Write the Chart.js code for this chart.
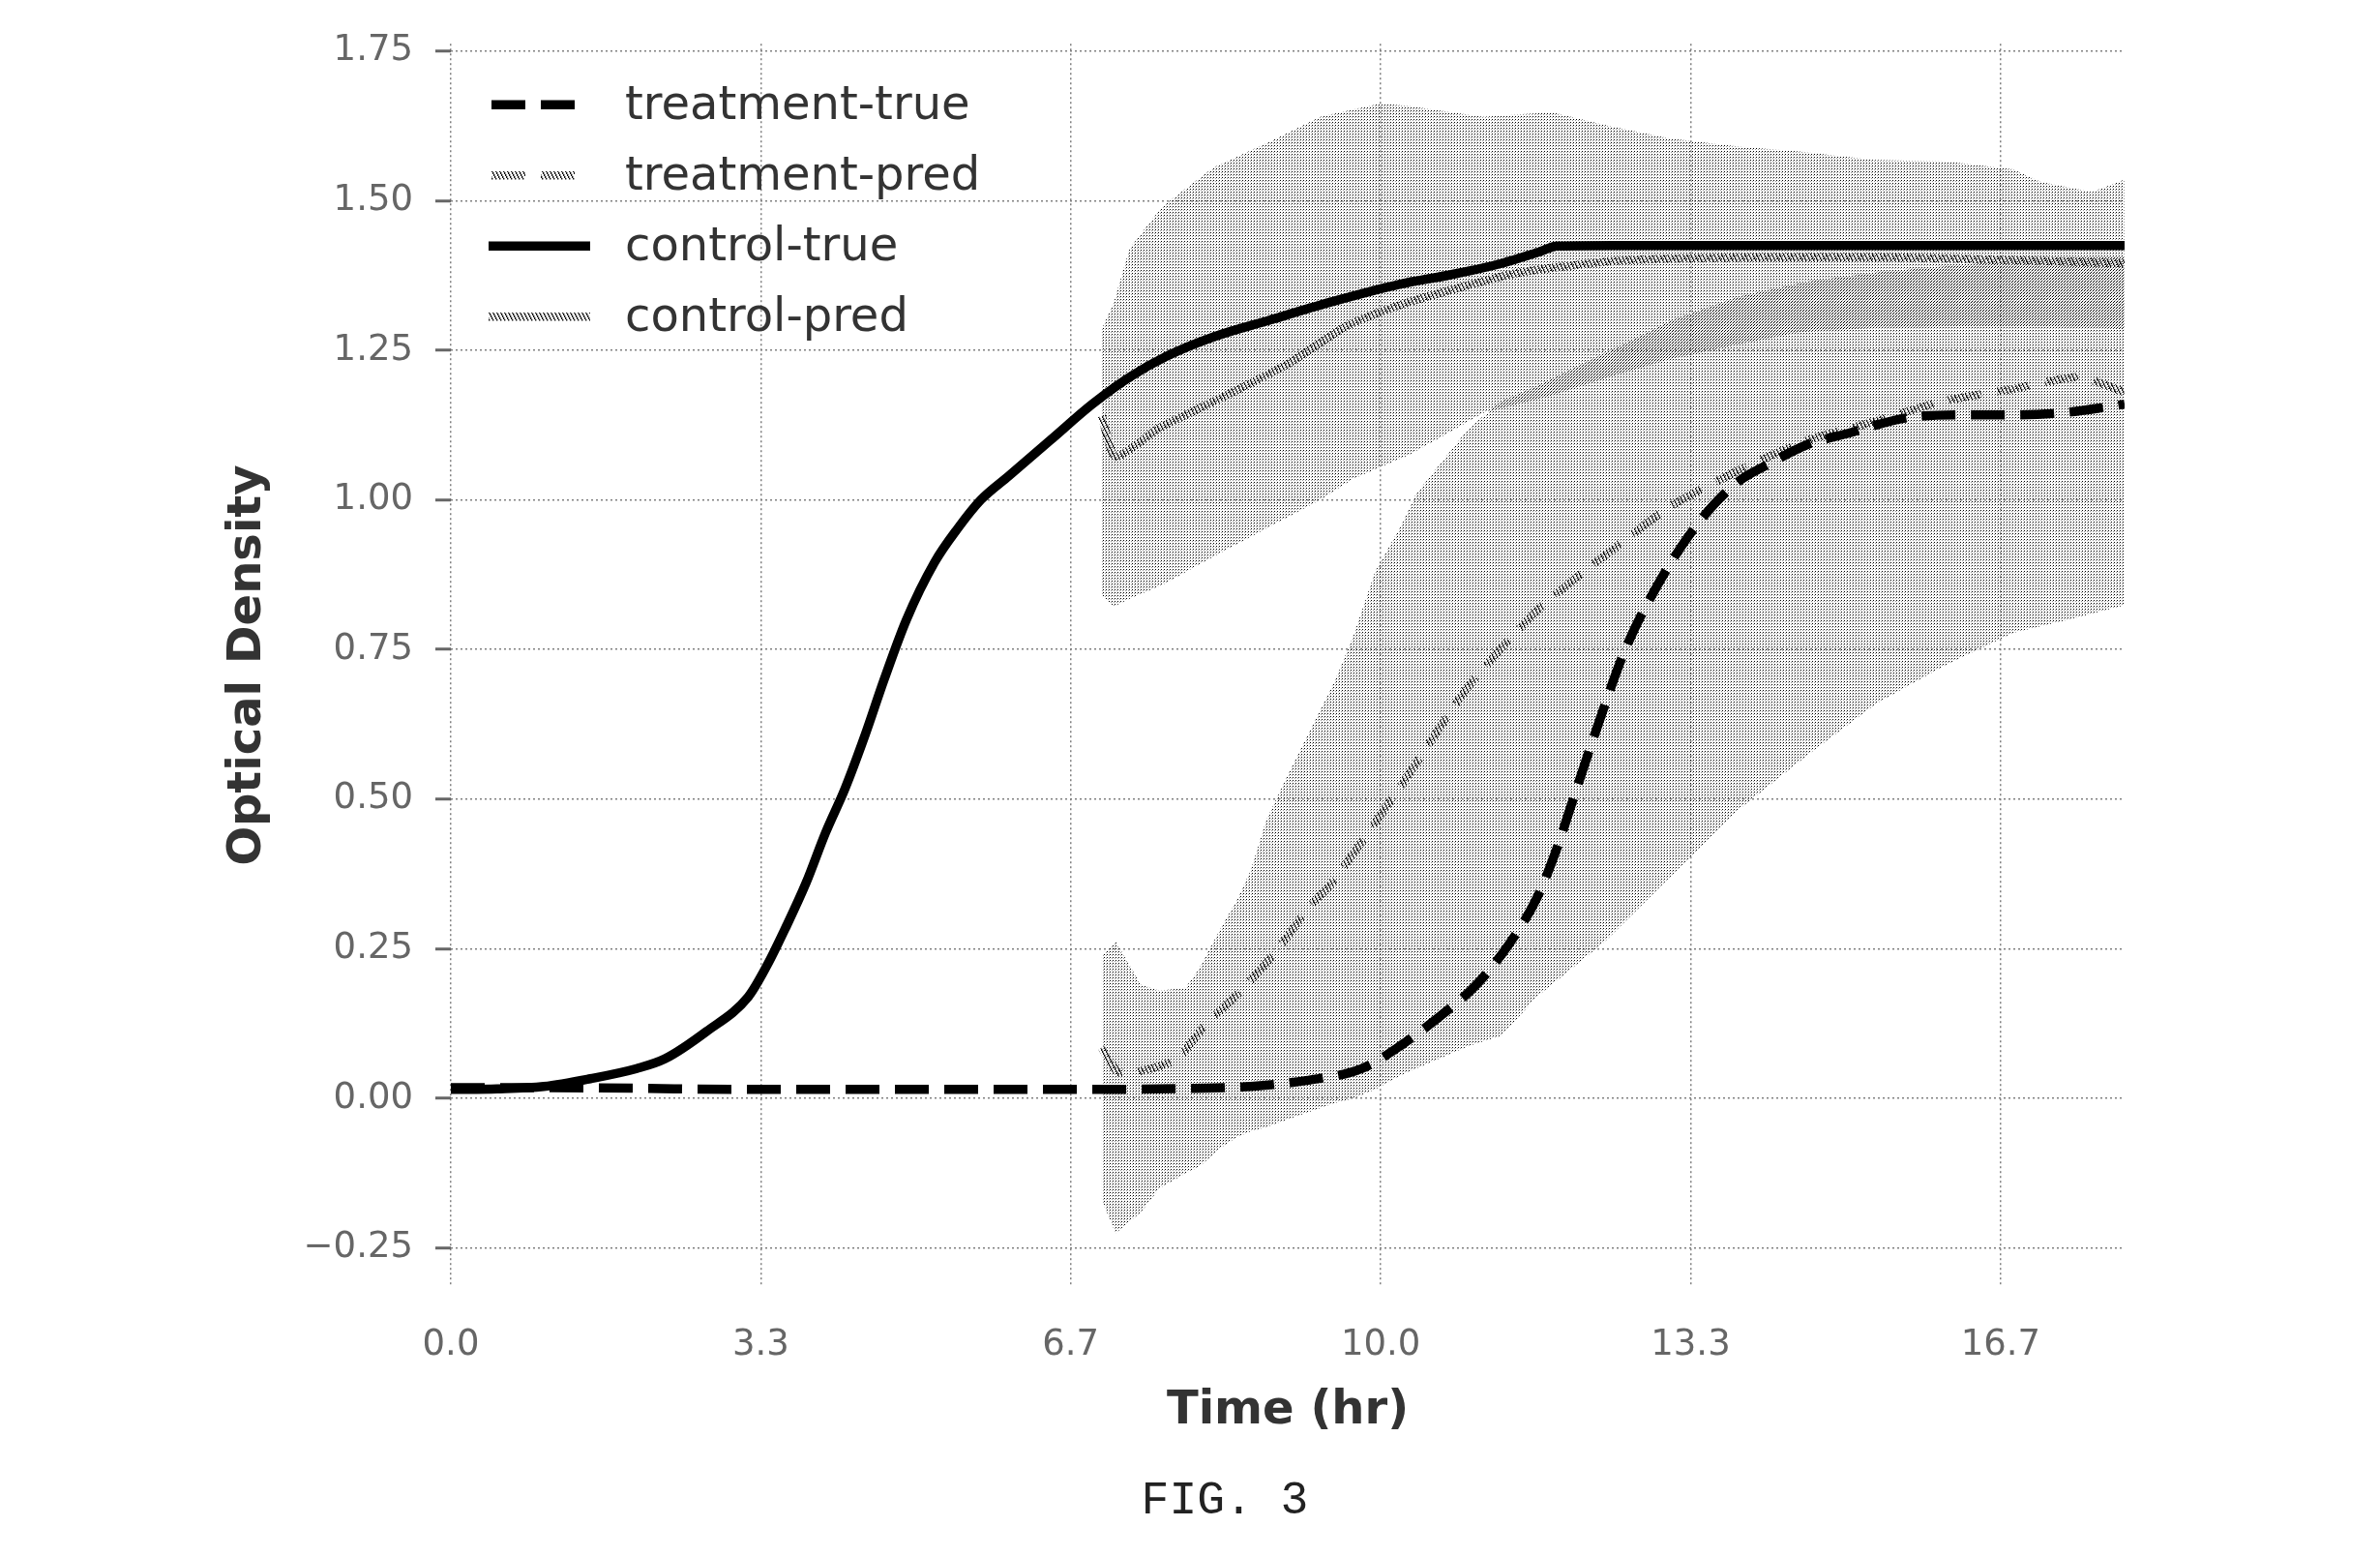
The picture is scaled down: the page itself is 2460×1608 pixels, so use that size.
<!DOCTYPE html>
<html>
<head>
<meta charset="utf-8">
<script src="https://cdn.jsdelivr.net/npm/chart.js@4.4.0/dist/chart.umd.min.js"></script>
<style>
  html, body { margin: 0; padding: 0; background: #ffffff; }
  #wrap { position: relative; width: 2460px; height: 1608px; }
  #fig { position: absolute; left: 1066px; width: 400px; top: 1519px; height: 64px; line-height: 64px;
         text-align: center; font-family: "Liberation Mono", "DejaVu Sans Mono", monospace; font-size: 48px; color: #222; }
</style>
</head>
<body>
<div id="wrap">
  <canvas id="c" width="2460" height="1608"></canvas>
  <div id="fig">FIG. 3</div>
</div>
<script>
// ---------------- data ----------------
const seriesLabels = ['treatment-true', 'treatment-pred', 'control-true', 'control-pred'];

const ctrlTrueT  = [0, 0.5, 1.0, 1.5, 2.0, 2.3, 2.75, 3.2, 3.4, 3.6, 3.82, 4.03, 4.24, 4.45, 4.66, 4.9, 5.2, 5.45, 5.7, 6.0, 6.45, 6.9, 7.3, 7.7, 8.2, 8.8, 9.5, 10.2, 10.75, 11.3, 11.7, 11.9, 12.5, 14, 16, 18];
const ctrlTrueOD = [0.015, 0.016, 0.02, 0.033, 0.05, 0.066, 0.112, 0.17, 0.222, 0.285, 0.36, 0.444, 0.518, 0.605, 0.70, 0.80, 0.895, 0.952, 1.0, 1.04, 1.10, 1.16, 1.205, 1.24, 1.272, 1.30, 1.332, 1.36, 1.376, 1.395, 1.414, 1.424, 1.425, 1.425, 1.425, 1.425];

const trtTrueT  = [0, 1, 2, 3, 4, 5, 6, 7, 8, 8.6, 9.2, 9.8, 10.23, 10.66, 11.03, 11.39, 11.68, 11.9, 12.07, 12.35, 12.63, 12.95, 13.36, 13.8, 14.2, 14.6, 15.0, 15.7, 16.3, 16.8, 17.3, 17.8, 18];
const trtTrueOD = [0.018, 0.018, 0.017, 0.015, 0.015, 0.015, 0.015, 0.015, 0.017, 0.02, 0.03, 0.05, 0.09, 0.14, 0.19, 0.26, 0.335, 0.42, 0.5, 0.63, 0.75, 0.85, 0.95, 1.025, 1.062, 1.093, 1.11, 1.138, 1.142, 1.142, 1.145, 1.155, 1.16];

const ctrlPredT  = [7.0, 7.15, 7.62, 8.32, 9.0, 9.63, 10.2, 10.74, 11.5, 12.6, 14, 15.5, 17, 18];
const ctrlPredOD = [1.14, 1.072, 1.12, 1.173, 1.227, 1.29, 1.325, 1.35, 1.38, 1.40, 1.405, 1.405, 1.40, 1.395];

const trtPredT  = [7.0, 7.17, 7.4, 7.8, 8.1, 8.5, 8.87, 9.21, 9.5, 10.23, 10.95, 11.68, 12.41, 13.13, 13.86, 14.6, 15.3, 16.05, 16.8, 17.5, 18];
const trtPredOD = [0.085, 0.045, 0.045, 0.065, 0.12, 0.18, 0.245, 0.315, 0.365, 0.525, 0.69, 0.815, 0.907, 0.99, 1.05, 1.10, 1.13, 1.165, 1.185, 1.205, 1.18];

const ctrlBandT  = [7.0, 7.13, 7.3, 7.65, 8.2, 8.8, 9.35, 9.7, 10.0, 10.3, 10.65, 11.1, 11.6, 11.85, 12.45, 13.1, 13.85, 14.5, 15.3, 16.1, 16.8, 17.1, 17.65, 18.0];
const ctrlBandHi = [1.285, 1.33, 1.42, 1.49, 1.555, 1.598, 1.64, 1.652, 1.662, 1.658, 1.65, 1.64, 1.645, 1.647, 1.625, 1.604, 1.59, 1.582, 1.568, 1.565, 1.552, 1.531, 1.514, 1.535];
const ctrlBandLo = [0.84, 0.822, 0.835, 0.858, 0.905, 0.955, 1.0, 1.035, 1.055, 1.075, 1.105, 1.145, 1.165, 1.175, 1.205, 1.235, 1.26, 1.28, 1.287, 1.29, 1.29, 1.29, 1.288, 1.285];

const trtBandT  = [7.0, 7.15, 7.42, 7.62, 7.9, 8.04, 8.3, 8.45, 8.6, 8.77, 9.0, 9.5, 9.7, 9.94, 10.23, 10.38, 10.95, 11.3, 11.68, 12.41, 13.13, 13.86, 14.6, 15.33, 16.06, 16.8, 17.4, 18.0];
const trtBandHi = [0.24, 0.262, 0.19, 0.18, 0.185, 0.215, 0.29, 0.33, 0.38, 0.465, 0.54, 0.695, 0.77, 0.88, 0.96, 1.01, 1.12, 1.165, 1.19, 1.245, 1.30, 1.34, 1.365, 1.38, 1.39, 1.40, 1.405, 1.405];
const trtBandLo = [-0.17, -0.225, -0.19, -0.15, -0.125, -0.115, -0.08, -0.065, -0.055, -0.048, -0.035, -0.008, 0.0, 0.015, 0.04, 0.05, 0.088, 0.105, 0.17, 0.262, 0.373, 0.484, 0.575, 0.66, 0.723, 0.778, 0.80, 0.824];

const xTickValues = [0, 10 / 3, 20 / 3, 10, 40 / 3, 50 / 3];
const xTickLabels = ['0.0', '3.3', '6.7', '10.0', '13.3', '16.7'];
const yTickValues = [-0.25, 0, 0.25, 0.5, 0.75, 1.0, 1.25, 1.5, 1.75];
const yTickLabels = ['\u22120.25', '0.00', '0.25', '0.50', '0.75', '1.00', '1.25', '1.50', '1.75'];

// ---------------- helpers ----------------
const pts = (t, v) => t.map((x, i) => ({ x: x, y: v[i] }));

function dotPattern(ox, oy) {
  const c = document.createElement('canvas');
  c.width = 3; c.height = 3;
  const g = c.getContext('2d');
  g.fillStyle = '#000';
  g.fillRect(ox, oy, 1, 1);
  g.fillStyle = '#9a9a9a';
  g.fillRect((ox + 2) % 3, (oy + 1) % 3, 1, 1);
  return g.createPattern(c, 'repeat');
}
function hatchPattern() {
  const c = document.createElement('canvas');
  c.width = 4; c.height = 8;
  const g = c.getContext('2d');
  for (let y = 0; y < 8; y++) {
    const x = Math.floor(y / 2);
    g.fillStyle = '#111';
    g.fillRect(x, y, 1, 1);
    g.fillStyle = '#9a9a9a';
    g.fillRect((x + 1) % 4, y, 1, 1);
  }
  return g.createPattern(c, 'repeat');
}
const ctrlFill = dotPattern(0, 0);
const trtFill = dotPattern(1, 2);
const hatch = hatchPattern();

const DASH = [35, 16];
const FONT = 'DejaVu Sans';

const lineBase = { pointRadius: 0, borderJoinStyle: 'round', borderCapStyle: 'butt', fill: false };

const datasets = [
  Object.assign({ label: 'control-true', data: pts(ctrlTrueT, ctrlTrueOD), borderColor: '#000', borderWidth: 9.5, cubicInterpolationMode: 'monotone' }, lineBase),
  Object.assign({ label: 'treatment-true', data: pts(trtTrueT, trtTrueOD), borderColor: '#000', borderWidth: 9.5, borderDash: DASH, cubicInterpolationMode: 'monotone' }, lineBase),
  Object.assign({ label: 'control-pred', data: pts(ctrlPredT, ctrlPredOD), borderColor: hatch, borderWidth: 8.5, tension: 0.2 }, lineBase),
  Object.assign({ label: 'treatment-pred', data: pts(trtPredT, trtPredOD), borderColor: hatch, borderWidth: 8.5, borderDash: DASH, tension: 0.2 }, lineBase),
  { label: 'control-band-hi', data: pts(ctrlBandT, ctrlBandHi), borderWidth: 0, borderColor: 'rgba(0,0,0,0)', pointRadius: 0, backgroundColor: ctrlFill, fill: '+1', tension: 0 },
  { label: 'control-band-lo', data: pts(ctrlBandT, ctrlBandLo), borderWidth: 0, borderColor: 'rgba(0,0,0,0)', pointRadius: 0, fill: false, tension: 0 },
  { label: 'treatment-band-hi', data: pts(trtBandT, trtBandHi), borderWidth: 0, borderColor: 'rgba(0,0,0,0)', pointRadius: 0, backgroundColor: trtFill, fill: '+1', tension: 0 },
  { label: 'treatment-band-lo', data: pts(trtBandT, trtBandLo), borderWidth: 0, borderColor: 'rgba(0,0,0,0)', pointRadius: 0, fill: false, tension: 0 }
];

// legend drawn inside the plot, upper left
const cornerLegend = {
  id: 'cornerLegend',
  afterDraw(chart) {
    const ctx = chart.ctx;
    const a = chart.chartArea;
    const x0 = a.left + 39, x1 = a.left + 144, tx = a.left + 180;
    const base0 = a.top + 78, step = 73;
    ctx.save();
    seriesLabels.forEach((lab, i) => {
      const ds = chart.data.datasets.find(d => d.label === lab);
      const yb = base0 + i * step;
      const yl = yb - 15;
      const dashed = ds.borderDash && ds.borderDash.length;
      ctx.beginPath();
      ctx.setLineDash(ds.borderDash || []);
      ctx.lineDashOffset = 0;
      ctx.lineCap = 'butt';
      ctx.strokeStyle = ds.borderColor;
      ctx.lineWidth = ds.borderWidth;
      ctx.moveTo(x0 + (dashed ? 3 : 0), yl);
      ctx.lineTo(dashed ? x0 + 90 : x1, yl);
      ctx.stroke();
      ctx.setLineDash([]);
      ctx.font = '48px "' + FONT + '"';
      ctx.fillStyle = '#333';
      ctx.textAlign = 'left';
      ctx.textBaseline = 'alphabetic';
      ctx.fillText(lab, tx, yb);
    });
    ctx.restore();
  }
};

new Chart(document.getElementById('c'), {
  type: 'line',
  data: { datasets: datasets },
  plugins: [cornerLegend],
  options: {
    responsive: false,
    animation: false,
    devicePixelRatio: 1,
    layout: { padding: { left: 0, right: 264, top: 40, bottom: 0 } },
    plugins: {
      legend: { display: false },
      tooltip: { enabled: false },
      filler: { propagate: false }
    },
    scales: {
      x: {
        type: 'linear',
        min: 0, max: 18,
        afterBuildTicks: s => { s.ticks = xTickValues.map(v => ({ value: v })); },
        afterFit: s => { s.height = 278; },
        ticks: {
          autoSkip: false, maxRotation: 0, minRotation: 0,
          padding: 38,
          color: '#666',
          font: { family: FONT, size: 37 },
          callback: (v, i) => xTickLabels[i]
        },
        grid: { drawTicks: false, color: '#808080', lineWidth: 1.5 },
        border: { display: false, dash: [2, 3] },
        title: {
          display: true, text: 'Time (hr)', color: '#333',
          font: { family: FONT, size: 48, weight: 'bold' },
          padding: { top: 0, bottom: 121 }
        }
      },
      y: {
        type: 'linear',
        min: -0.315, max: 1.762,
        afterBuildTicks: s => { s.ticks = yTickValues.map(v => ({ value: v })); },
        afterFit: s => { s.width = 466; },
        ticks: {
          autoSkip: false,
          padding: 23,
          color: '#666',
          font: { family: FONT, size: 37 },
          callback: (v, i) => yTickLabels[i]
        },
        grid: { color: '#808080', lineWidth: 1.5, tickLength: 16, tickWidth: 3, tickColor: '#666', tickBorderDash: [] },
        border: { display: false, dash: [2, 3] },
        title: {
          display: true, text: 'Optical Density', color: '#333',
          font: { family: FONT, size: 48, weight: 'bold' },
          padding: { top: 228, bottom: 0 }
        }
      }
    }
  }
});
</script>
</body>
</html>
